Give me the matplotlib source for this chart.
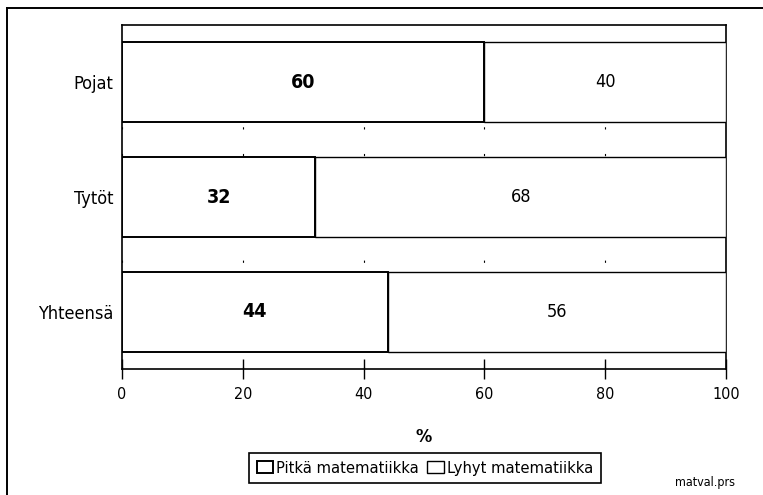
import matplotlib.pyplot as plt
import matplotlib.lines as mlines
import numpy as np

# data
categories = ['Pojat', 'Tytöt', 'Yhteensä']
pitka = [60, 32, 44]
lyhyt = [40, 68, 56]
xticks = [0, 20, 40, 60, 80, 100]

plt.rcParams['font.family'] = ['DejaVu Sans Condensed', 'Liberation Sans Narrow', 'DejaVu Sans']
plt.rcParams['font.stretch'] = 'condensed'

fig = plt.figure(figsize=(7.63, 4.95), dpi=100)
ax = fig.add_axes([0.1599, 0.2545, 0.7916, 0.695])

y = np.arange(len(categories))
b1 = ax.barh(y, pitka, height=0.7, color='white', edgecolor='black', lw=1.4, zorder=3,
             label='Pitkä matematiikka')
b2 = ax.barh(y, lyhyt, left=pitka, height=0.7, color='white', edgecolor='black', lw=1.0,
             zorder=3, label='Lyhyt matematiikka')

for i in range(len(categories)):
    ax.text(pitka[i] / 2, y[i], str(pitka[i]), ha='center', va='center',
            fontsize=14, fontweight='bold', zorder=4)
    ax.text(pitka[i] + lyhyt[i] / 2, y[i], str(lyhyt[i]), ha='center', va='center',
            fontsize=13, zorder=4)

ax.set_xlim(0, 100)
ax.set_ylim(2.5, -0.5)
ax.set_xticks(xticks)
ax.set_xticklabels([str(t) for t in xticks], fontsize=11.5)
ax.set_yticks(y)
ax.set_yticklabels(categories, fontsize=13)
ax.tick_params(axis='x', direction='inout', length=14, width=1, pad=6)
ax.tick_params(axis='y', length=0, pad=6)
ax.xaxis.grid(True, color='black', lw=0.8, linestyle=(0, (2, 22)), zorder=0)
for s in ax.spines.values():
    s.set_linewidth(1.2)

ax.set_xlabel('%', fontsize=13, fontweight='bold', labelpad=19)

leg = fig.legend(handles=[b1, b2], loc='center', bbox_to_anchor=(0.557, 0.0545),
                 ncol=2, fontsize=11.8, frameon=True, fancybox=False, edgecolor='black',
                 framealpha=1, handlelength=1.0, handleheight=0.8, handletextpad=0.2,
                 columnspacing=0.5, borderpad=0.45, borderaxespad=0)
leg.get_frame().set_linewidth(1.2)

fig.text(0.963, 0.018, 'matval.prs', ha='right', va='baseline', fontsize=9)

# outer frame (only left and top edges are visible in the scan)
fig.add_artist(mlines.Line2D([0.0092, 0.0092], [0.0, 0.984], color='black', lw=1.4))
fig.add_artist(mlines.Line2D([0.0092, 1.0], [0.984, 0.984], color='black', lw=1.4))

fig.savefig('out.png', dpi=100)
